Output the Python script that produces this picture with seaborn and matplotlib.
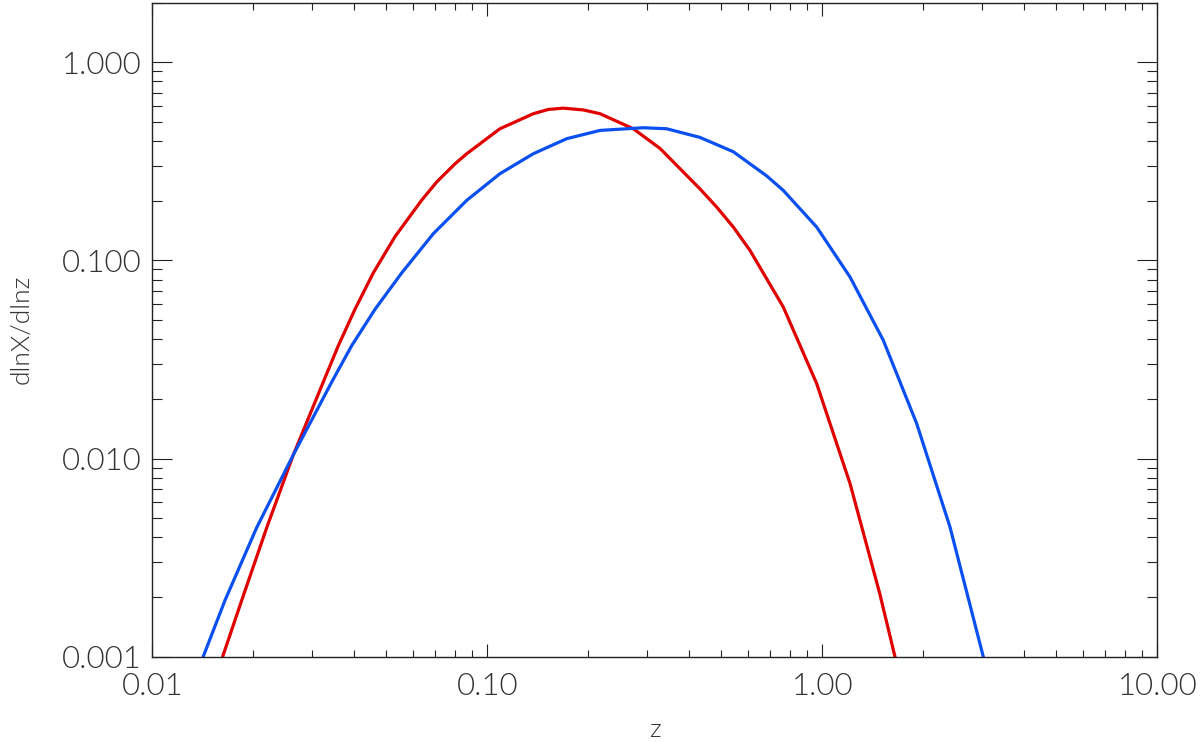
import numpy as np
import pandas as pd
import matplotlib
matplotlib.use("Agg")
import matplotlib.pyplot as plt
from matplotlib.ticker import LogLocator, FixedLocator, FixedFormatter, NullFormatter
import seaborn as sns

# values (log-log axes)
red_z = [0.01622, 0.01849, 0.02196, 0.02636, 0.03238, 0.03591, 0.04027, 0.04568,
         0.05304, 0.06371, 0.07063, 0.08011, 0.08683, 0.1091, 0.1372, 0.1521,
         0.1686, 0.1935, 0.2170, 0.2728, 0.3278, 0.4314, 0.4840, 0.5425,
         0.6083, 0.7648, 0.9623, 1.210, 1.484, 1.648]
red_y = [0.00100, 0.001923, 0.004477, 0.01043, 0.02428, 0.03706, 0.05660, 0.08640,
         0.1318, 0.2012, 0.2485, 0.3070, 0.3451, 0.4614, 0.5494, 0.5773,
         0.5861, 0.5740, 0.5494, 0.4614, 0.3671, 0.2294, 0.1857, 0.1472,
         0.1123, 0.05814, 0.02388, 0.00748, 0.002085, 0.00100]

blue_z = [0.01419, 0.01648, 0.02049, 0.02636, 0.03431, 0.03936, 0.04622, 0.05553,
          0.06901, 0.08683, 0.1091, 0.1372, 0.1726, 0.2170, 0.2922, 0.3431,
          0.4314, 0.5425, 0.6823, 0.7648, 0.9623, 1.210, 1.521, 1.913,
          2.405, 3.024]
blue_y = [0.00100, 0.001923, 0.004477, 0.01043, 0.02428, 0.03706, 0.05660, 0.08640,
          0.1363, 0.2008, 0.2737, 0.3451, 0.4110, 0.4525, 0.4668, 0.4614,
          0.4172, 0.3532, 0.2668, 0.2254, 0.1472, 0.0824, 0.03950, 0.01502,
          0.004519, 0.00100]

x_ticks = [0.01, 0.1, 1.0, 10.0]
x_labels = ["0.01", "0.10", "1.00", "10.00"]
y_ticks = [0.001, 0.01, 0.1, 1.0]
y_labels = ["0.001", "0.010", "0.100", "1.000"]

sns.set_theme(style="white")
plt.rcParams['font.family'] = ['Lato', 'DejaVu Sans']
plt.rcParams['font.weight'] = 300

fig = plt.figure(figsize=(12, 7.42), dpi=100)
ax = fig.add_axes([0.1269, 0.1150, 0.8375, 0.8816])

red_df = pd.DataFrame({"z": red_z, "val": red_y})
blue_df = pd.DataFrame({"z": blue_z, "val": blue_y})
sns.lineplot(data=red_df, x="z", y="val", ax=ax, color="#e00000", linewidth=2.3, sort=False)
sns.lineplot(data=blue_df, x="z", y="val", ax=ax, color="#0a4ff0", linewidth=2.3, sort=False)
for ln in ax.get_lines():
    ln.set_solid_joinstyle("round")

ax.set_xscale("log")
ax.set_yscale("log")
ax.set_xlim(0.01, 10)
ax.set_ylim(0.001, 2.0)

ax.xaxis.set_major_locator(FixedLocator(x_ticks))
ax.xaxis.set_major_formatter(FixedFormatter(x_labels))
ax.yaxis.set_major_locator(FixedLocator(y_ticks))
ax.yaxis.set_major_formatter(FixedFormatter(y_labels))
ax.xaxis.set_minor_locator(LogLocator(base=10, subs=np.arange(2, 10)))
ax.yaxis.set_minor_locator(LogLocator(base=10, subs=np.arange(2, 10)))
ax.xaxis.set_minor_formatter(NullFormatter())
ax.yaxis.set_minor_formatter(NullFormatter())

ax.tick_params(axis="x", which="major", direction="in", length=9.4, width=0.8,
               top=True, bottom=True, color="#222222", labelsize=22.5,
               labelcolor="#333333", pad=11)
ax.tick_params(axis="x", which="minor", direction="in", length=5, width=0.8,
               top=True, bottom=True, color="#222222")
ax.tick_params(axis="y", which="major", direction="in", length=14.4, width=0.8,
               left=True, right=True, color="#222222", labelsize=22.5,
               labelcolor="#333333", pad=8)
ax.tick_params(axis="y", which="minor", direction="in", length=7.2, width=0.8,
               left=True, right=True, color="#222222")
for lbl in ax.get_xticklabels() + ax.get_yticklabels():
    lbl.set_fontweight(300)

for s in ax.spines.values():
    s.set_color("#222222")
    s.set_linewidth(1.0)

ax.set_xlabel("z", fontsize=19, color="#333333", labelpad=12, fontweight=300)
ax.set_ylabel("dlnX/dlnz", fontsize=19, color="#333333", labelpad=20, fontweight=300)
ax.grid(False)

fig.savefig("out.png", dpi=100, facecolor="white")
